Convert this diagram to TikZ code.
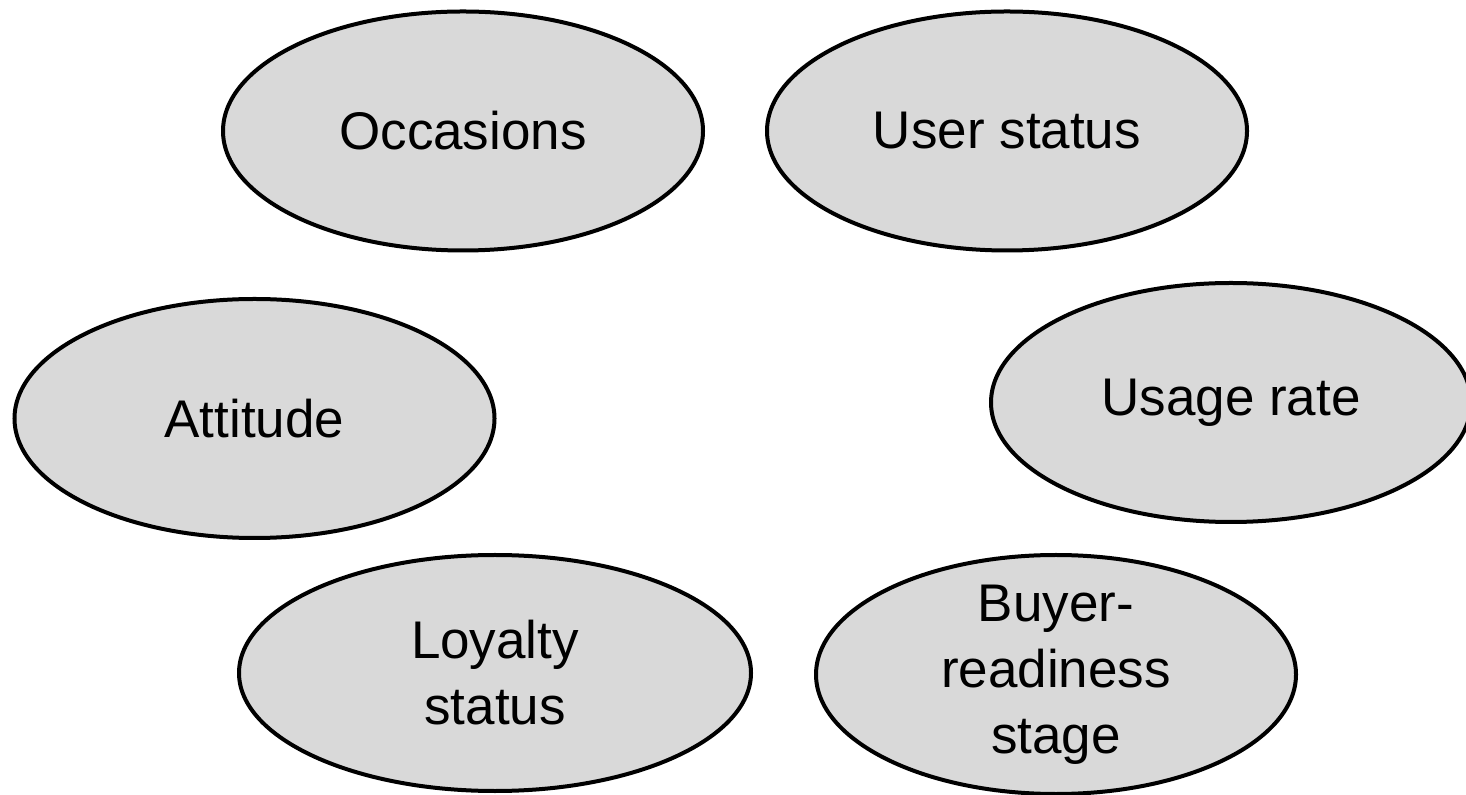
\documentclass[tikz,border=0pt]{standalone}
\usepackage{fontspec}
\setmainfont{Liberation Sans}
\usetikzlibrary{shapes.geometric}
\definecolor{ovalgray}{HTML}{D9D9D9}
\begin{document}
\begin{tikzpicture}[x=0.5pt,y=-0.5pt,
    every node/.style={ellipse,fill=ovalgray,draw,line width=2pt,inner sep=0pt,
      minimum width=240pt,minimum height=119.5pt,align=center,
      font=\fontsize{26.5}{33}\selectfont}]
    \useasboundingbox (0,0) rectangle (1466,795);
    \clip (0,0) rectangle (1466,795);
    \node (occ) at (463,131) {Occasions};
    \node (user) at (1007,131) {User status};
    \node (att) at (254.5,418.5) {Attitude};
    \node (rate) at (1231,402.5) {Usage rate};
    \node[minimum width=256pt,minimum height=118pt] (loyal) at (495,673) {Loyalty\\status};
    % three lines: keep the text from stretching the oval
    \node[inner ysep=-10pt] (buyer) at (1056,674.5) {Buyer-\\readiness\\stage};
\end{tikzpicture}
\end{document}
